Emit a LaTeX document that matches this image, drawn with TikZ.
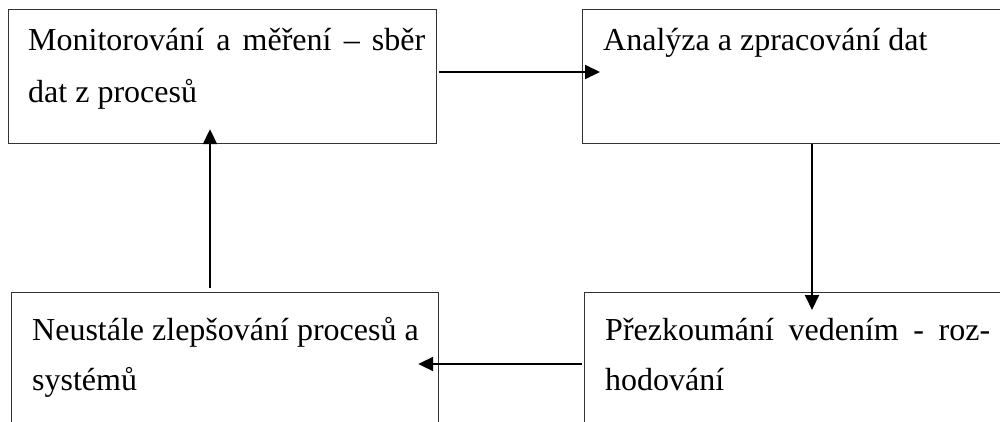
\documentclass[tikz,border=0pt]{standalone}
\usepackage{fontspec}
\setmainfont{Liberation Serif}
\usetikzlibrary{arrows.meta,calc}
\begin{document}
\begin{tikzpicture}[x=1pt,y=-1pt,
  stagebox/.style={draw=black!80,line width=1.2pt,anchor=north west,inner sep=0pt,
    minimum width=#1,minimum height=134pt},
  stagebox/.default=428pt,
  txt/.style={anchor=base west,inner sep=0pt,font=\fontsize{32}{51}\selectfont},
  flow/.style={line width=2pt,-{Triangle[length=15pt,width=14pt]}}]
\useasboundingbox (0,0) rectangle (1000,421);
% process stages
\node[stagebox] (mon) at (8,9) {};
\node[stagebox=440pt] (ana) at (582,9) {};
\node[stagebox=427pt,minimum height=150pt] (imp) at (11,292) {};
\node[stagebox=440pt,minimum height=150pt] (rev) at (584,292) {};
% stage labels
\node[txt] (mon1) at (28,50) {\makebox[397pt][s]{Monitorování a měření – sběr}};
\node[txt] (mon2) at (28,102) {dat z procesů};
\node[txt] (ana1) at (603,50) {Analýza a zpracování dat};
\node[txt] (rev1) at (605,340) {\makebox[385pt][s]{Přezkoumání vedením - roz-}};
\node[txt] (rev2) at (605,390) {hodování};
\node[txt] (imp1) at (32,340) {Neustále zlepšování procesů a};
\node[txt] (imp2) at (32,390) {systémů};
% cycle connectors
\draw[flow] ($(mon.north east)+(2,63)$) -- ($(ana.north west)+(18,63)$);
\draw[flow] ($(ana.south west)+(230,0)$) -- ($(rev.north west)+(228,18)$);
\draw[flow] ($(rev.north west)+(-2,72)$) -- ($(imp.north east)+(-21,72)$);
\draw[flow] ($(imp.north west)+(199,-4)$) -- ($(mon.south west)+(202,-15)$);
\end{tikzpicture}
\end{document}
